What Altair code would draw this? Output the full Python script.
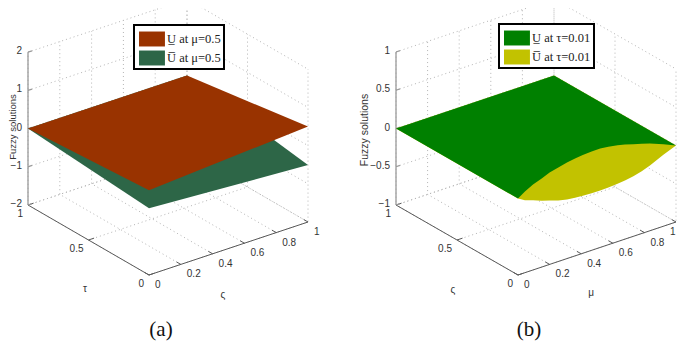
import altair as alt
import pandas as pd

# ---- values ----
U_TICKS = [0, 0.2, 0.4, 0.6, 0.8, 1]
V_TICKS = [0, 0.5, 1]
Z_TICKS_A = [-2, -1, 0, 1, 2]
Z_TICKS_B = [-1, -0.5, 0, 0.5, 1]

# panel (a): surface z at corners (zeta, tau)
A_LOWER = {"(0,0)": 0.22, "(1,0)": 0.5, "(1,1)": 0.0, "(0,1)": 0.0}
A_UPPER = {"(0,0)": -0.25, "(1,0)": -0.51, "(1,1)": 0.0, "(0,1)": 0.0}

# panel (b): surfaces along the front edge zeta=0 against mu; other edges at 0
MU = [0, 0.044, 0.095, 0.15, 0.2, 0.255, 0.31, 0.361, 0.41, 0.466, 0.52, 0.572, 0.63, 0.677, 0.73, 0.783, 0.835, 0.92, 1]
B_LOWER_EDGE = [0, 0.061, 0.118, 0.158, 0.2, 0.229, 0.256, 0.273, 0.285, 0.291, 0.293, 0.28, 0.26, 0.237, 0.205, 0.173, 0.14, 0.072, 0]
B_UPPER_EDGE = [0, -0.052, -0.09, -0.134, -0.165, -0.203, -0.227, -0.24, -0.248, -0.254, -0.256, -0.252, -0.245, -0.234, -0.215, -0.186, -0.148, -0.067, 0]

LABELS_A = ["U\u0332 at \u03bc=0.5\u00a0", "U\u0305 at \u03bc=0.5\u00a0"]
COLORS_A = ["#993300", "#2D6647"]
LABELS_B = ["U\u0332 at \u03c4=0.01\u00a0", "U\u0305 at \u03c4=0.01\u00a0"]
COLORS_B = ["#008000", "#C2C200"]

SANS = "Liberation Sans"
SERIF = "Liberation Serif"
GRID = "#b4b4b4"
AXIS = "#5a5a5a"


def fmt(v):
    s = f"{v:g}"
    return s.replace("-", "\u2212")


def panel(x0, width, origin, u_vec, v_vec, z_min, z_unit, z_ticks, polys, labels, colors,
          legend_xy, v_title, u_title, v_title_xy, u_title_xy, ylabel_xy, ylabel_size, caption, caption_x):
    H = 333

    def P(u, v, z):
        return (origin[0] + u * u_vec[0] + v * v_vec[0],
                origin[1] + u * u_vec[1] + v * v_vec[1] - (z - z_min) * z_unit)

    z_max = z_ticks[-1]
    grid, axes = [], []

    def seg(store, key, pts):
        for i, p in enumerate(pts):
            x, y = P(*p)
            store.append({"k": key, "i": i, "x": x, "y": y})

    for z in z_ticks:
        seg(grid, f"z{z}", [(0, 1, z), (1, 1, z), (1, 0, z)])
    for u in U_TICKS:
        seg(grid, f"u{u}", [(u, 0, z_min), (u, 1, z_min), (u, 1, z_max)])
    for v in V_TICKS:
        seg(grid, f"v{v}", [(0, v, z_min), (1, v, z_min), (1, v, z_max)])

    seg(axes, "au", [(0, 0, z_min), (1, 0, z_min)])
    seg(axes, "av", [(0, 0, z_min), (0, 1, z_min)])
    for u in U_TICKS:
        seg(axes, f"tu{u}", [(u, 0, z_min), (u, 0.035, z_min)])
    for v in V_TICKS:
        seg(axes, f"tv{v}", [(0, v, z_min), (0.035, v, z_min)])
    z_axis = []
    seg(z_axis, "az", [(0, 1, z_min), (0, 1, z_max)])
    for z in z_ticks:
        seg(z_axis, f"tz{z}", [(0, 1, z), (0.025, 1, z)])

    surf = []
    for name, pts in polys:
        for i, p in enumerate(pts):
            x, y = P(*p)
            surf.append({"series": name, "i": i, "x": x, "y": y})

    xs = alt.Scale(domain=[x0, x0 + width], nice=False, zero=False)
    ys = alt.Scale(domain=[8 + H, 8], nice=False, zero=False)
    X = alt.X("x:Q", scale=xs, axis=None)
    Y = alt.Y("y:Q", scale=ys, axis=None)

    def lines(rows, color, w, dash=None):
        kw = {"strokeDash": dash} if dash else {}
        return alt.Chart(pd.DataFrame(rows)).mark_line(
            color=color, strokeWidth=w, clip=True, **kw
        ).encode(x=X, y=Y, detail="k:N", order="i:Q")

    color = alt.Color(
        "series:N",
        scale=alt.Scale(domain=labels, range=colors),
        legend=alt.Legend(
            title=None, orient="none", legendX=legend_xy[0], legendY=legend_xy[1],
            symbolType="M-0.82,-0.68H1.54V0.68H-0.82Z", symbolSize=484,
            symbolStrokeWidth=0, symbolOpacity=1,
            labelFont=SERIF, labelFontSize=12.5, labelColor="#222222", labelOffset=8,
            rowPadding=0, padding=3, fillColor="white", strokeColor="black",
            labelLimit=200,
        ),
    )
    poly_layers = []
    for name, _ in reversed(polys):
        d = pd.DataFrame([r for r in surf if r["series"] == name])
        poly_layers.append(
            alt.Chart(d).mark_line(filled=True, interpolate="linear-closed", clip=True)
            .encode(x=X, y=Y, color=color, order="i:Q")
        )

    def texts(rows, align, size, font=SANS, dx=0, dy=0, angle=None, col="#333333"):
        kw = {"angle": angle} if angle is not None else {}
        return alt.Chart(pd.DataFrame(rows)).mark_text(
            align=align, baseline="middle", fontSize=size, font=font,
            dx=dx, dy=dy, color=col, clip=True, **kw
        ).encode(x=X, y=Y, text="t:N")

    def tr(u, v, z, t):
        x, y = P(u, v, z)
        return {"x": x, "y": y, "t": t}

    z_lab = []
    for z in z_ticks:
        x, y = P(0, 1, z)
        z_lab.append({"x": x, "y": y, "t": fmt(z)})
    u_lab = [tr(u, 0, z_min, fmt(u)) for u in U_TICKS]
    for r in u_lab:
        r["x"] = min(r["x"], x0 + width - 13)
    v_lab = [tr(0, v, z_min, fmt(v)) for v in V_TICKS]

    layers = [
        lines(grid, GRID, 1, [1, 3]),
        lines(axes, AXIS, 1),
        lines(z_axis, "#9a9a9a", 1.3),
        *poly_layers,
        texts(z_lab, "right", 10, dx=-6, dy=-1),
        texts(u_lab, "left", 10, dx=6, dy=10),
        texts(v_lab, "right", 10, dx=-5, dy=9),
        texts([{"x": v_title_xy[0], "y": v_title_xy[1], "t": v_title}], "center", 10),
        texts([{"x": u_title_xy[0], "y": u_title_xy[1], "t": u_title}], "center", 10),
        texts([{"x": ylabel_xy[0], "y": ylabel_xy[1], "t": "Fuzzy solutions"}], "center", ylabel_size, angle=270),
        texts([{"x": caption_x, "y": 330, "t": caption}], "center", 21, font=SERIF, col="#111111"),
    ]
    return alt.layer(*layers).properties(width=width, height=H)


# panel (a) polygons from the corner values
def corners(name, c):
    return (name, [(0, 0, c["(0,0)"]), (1, 0, c["(1,0)"]), (1, 1, c["(1,1)"]), (0, 1, c["(0,1)"])])


polys_a = [corners(LABELS_A[0], A_LOWER), corners(LABELS_A[1], A_UPPER)]


def edge(name, values):
    front = [(m, 0, z) for m, z in zip(MU, values)]
    return (name, front + [(1, 1, 0), (0, 1, 0)])


polys_b = [edge(LABELS_B[0], B_LOWER_EDGE), edge(LABELS_B[1], B_UPPER_EDGE)]

a = panel(8, 338, (149, 275), (159, -53), (-121, -70), -2, 38.2, Z_TICKS_A, polys_a,
          LABELS_A, COLORS_A, (126, 17), "\u03c4", "\u03c2", (85, 289), (223, 295), (13, 127), 9.5, "(a)", 161)
b = panel(346, 331, (518, 275), (158, -53), (-122, -70), -1, 76.5, Z_TICKS_B, polys_b,
          LABELS_B, COLORS_B, (153, 16), "\u03c2", "\u03bc", (453, 290), (591, 293), (365, 130), 10.5, "(b)", 529)

chart = (
    alt.hconcat(a, b, spacing=0)
    .resolve_scale(color="independent")
    .configure_view(stroke=None)
    .configure_legend(strokeWidth=2)
    .properties(padding=0)
)
chart.save("out.html", embed_options={"renderer": "svg", "actions": False})
